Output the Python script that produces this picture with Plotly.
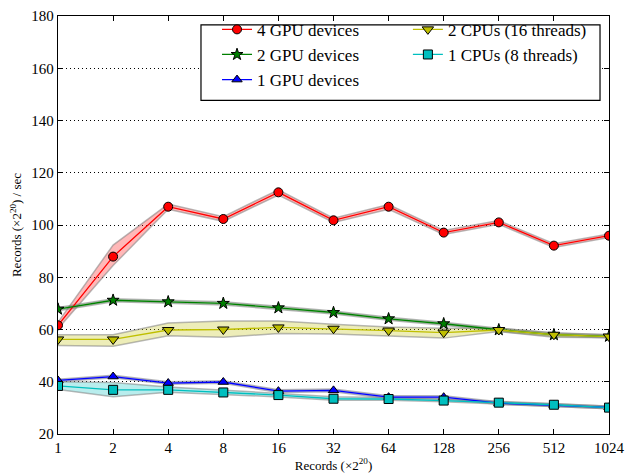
import plotly.graph_objects as go

x_vals = [1, 2, 4, 8, 16, 32, 64, 128, 256, 512, 1024]
x_labels = ["1", "2", "4", "8", "16", "32", "64", "128", "256", "512", "1024"]

gpu4 = [61.6, 87.9, 107.0, 102.3, 112.5, 101.8, 107.0, 97.1, 101.0, 92.1, 95.9]
gpu4_lo = [60.3, 84.5, 106.0, 101.4, 111.5, 101.0, 106.0, 96.4, 100.3, 91.4, 95.2]
gpu4_hi = [62.8, 92.3, 108.0, 103.2, 113.5, 102.6, 107.8, 97.9, 101.7, 92.8, 96.6]

gpu2 = [67.8, 71.2, 70.6, 70.0, 68.3, 66.5, 64.1, 62.2, 59.9, 58.0, 57.4]
gpu2_lo = [67.2, 70.6, 70.0, 69.4, 67.7, 65.9, 63.5, 61.6, 59.3, 57.4, 56.8]
gpu2_hi = [68.4, 71.8, 71.2, 70.6, 68.9, 67.1, 64.7, 62.8, 60.5, 58.6, 58.0]

gpu1 = [40.5, 42.0, 39.5, 39.9, 36.4, 36.7, 34.1, 34.1, 31.8, 31.1, 30.2]
gpu1_lo = [40.0, 41.5, 39.0, 39.4, 35.9, 36.2, 33.6, 33.6, 31.3, 30.6, 29.7]
gpu1_hi = [41.0, 42.5, 40.0, 40.4, 36.9, 37.2, 34.6, 34.6, 32.3, 31.6, 30.7]

cpu2 = [56.2, 56.2, 59.8, 60.0, 60.8, 60.3, 59.6, 58.8, 59.8, 58.0, 57.3]
cpu2_lo = [53.9, 53.6, 57.6, 57.0, 58.5, 58.3, 57.5, 56.7, 59.2, 57.0, 56.8]
cpu2_hi = [58.0, 58.0, 62.5, 63.3, 63.3, 62.0, 61.0, 60.5, 60.5, 58.8, 58.0]

cpu1 = [38.4, 36.9, 36.9, 35.9, 34.9, 33.5, 33.4, 32.8, 32.0, 31.2, 30.1]
cpu1_lo = [37.0, 34.3, 36.0, 35.2, 34.2, 32.9, 32.9, 32.3, 31.5, 30.7, 29.7]
cpu1_hi = [40.0, 39.7, 38.0, 36.8, 35.7, 34.3, 34.0, 33.3, 32.5, 31.7, 30.6]

series = [
    ("4 GPU devices", gpu4, gpu4_lo, gpu4_hi, "#ff0000", "rgba(255,0,0,0.28)", "circle", 9, "legend"),
    ("2 GPU devices", gpu2, gpu2_lo, gpu2_hi, "#007f00", "rgba(0,127,0,0.28)", "star", 9, "legend"),
    ("1 GPU devices", gpu1, gpu1_lo, gpu1_hi, "#0000ff", "rgba(0,0,255,0.28)", "triangle-up", 9, "legend"),
    ("2 CPUs (16 threads)", cpu2, cpu2_lo, cpu2_hi, "#bfbf00", "rgba(191,191,0,0.28)", "triangle-down", 10, "legend2"),
    ("1 CPUs (8 threads)", cpu1, cpu1_lo, cpu1_hi, "#00bfbf", "rgba(0,191,191,0.28)", "square", 9, "legend2"),
]

fig = go.Figure()

# bands
for name, y, lo, hi, col, fillc, sym, sz, leg in series:
    fig.add_trace(go.Scatter(x=x_vals, y=lo, mode="lines",
                             line=dict(color="rgba(128,128,128,0.55)", width=1.5),
                             showlegend=False, hoverinfo="skip"))
    fig.add_trace(go.Scatter(x=x_vals, y=hi, mode="lines", fill="tonexty",
                             fillcolor=fillc,
                             line=dict(color="rgba(128,128,128,0.55)", width=1.5),
                             showlegend=False, hoverinfo="skip"))

# lines
for name, y, lo, hi, col, fillc, sym, sz, leg in series:
    fig.add_trace(go.Scatter(x=x_vals, y=y, mode="lines+markers", name=name,
                             legend=leg,
                             line=dict(color=col, width=1.3),
                             marker=dict(symbol=sym, size=sz, color=col,
                                         line=dict(color="black", width=1))))

serif = "Times New Roman, Liberation Serif, DejaVu Serif, serif"
axis_font = dict(family=serif, size=15, color="black")
leg_font = dict(family=serif, size=17, color="black")

# legend frame
fig.add_shape(type="rect", xref="paper", yref="paper",
              x0=0.2595, x1=0.9837, y0=0.798, y1=0.979,
              line=dict(color="black", width=1.2), fillcolor="white", layer="above")

fig.update_layout(
    width=635, height=476,
    margin=dict(l=58, r=26, t=8, b=42),
    paper_bgcolor="white", plot_bgcolor="white",
    font=dict(family=serif, color="black"),
    showlegend=True,
    legend=dict(
        orientation="v", x=0.2886, y=1.010, xanchor="left", yanchor="top",
        bgcolor="rgba(0,0,0,0)", borderwidth=0, font=leg_font,
        traceorder="normal", itemwidth=30,
    ),
    legend2=dict(
        orientation="v", x=0.635, y=1.010, xanchor="left", yanchor="top",
        bgcolor="rgba(0,0,0,0)", borderwidth=0, font=leg_font,
        traceorder="normal", itemwidth=30,
    ),
    xaxis=dict(
        type="log", range=[0, 3.0103], tickvals=x_vals, ticktext=x_labels,
        showgrid=False, zeroline=False,
        showline=True, linecolor="black", linewidth=1.3, mirror="ticks",
        ticks="inside", ticklen=5, tickcolor="black", tickfont=axis_font,
        title=dict(text="Records (×2<sup>20</sup>)",
                   font=dict(family=serif, size=13), standoff=3),
    ),
    yaxis=dict(
        range=[20, 180], tickvals=[20, 40, 60, 80, 100, 120, 140, 160, 180],
        showgrid=True, gridcolor="black", griddash="1px,3px", gridwidth=1,
        zeroline=False,
        showline=True, linecolor="black", linewidth=1.3, mirror="ticks",
        ticks="inside", ticklen=5, tickcolor="black", tickfont=axis_font,
        title=dict(text="Records (×2<sup>20</sup>) / sec",
                   font=dict(family=serif, size=13), standoff=6),
    ),
)

fig.write_html("out.html")
